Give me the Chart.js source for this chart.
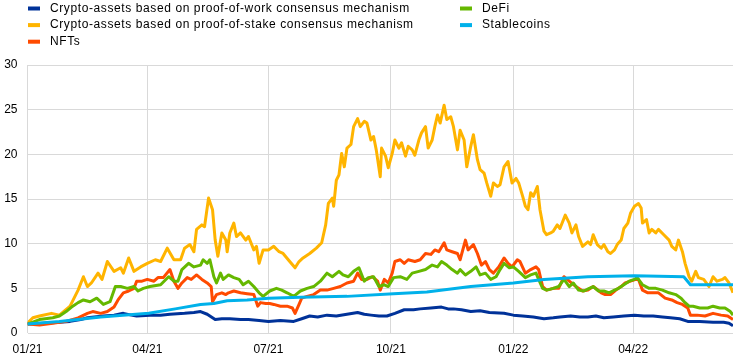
<!DOCTYPE html>
<html>
<head>
<meta charset="utf-8">
<script src="https://cdn.jsdelivr.net/npm/chart.js@4.4.1/dist/chart.umd.min.js"></script>
<style>
  html, body { margin: 0; padding: 0; background: #fff; }
  #wrap { width: 744px; height: 361px; }
</style>
</head>
<body>
<div id="wrap"><canvas id="c" width="744" height="361"></canvas></div>
<script>
// x = days since 1 Jan 2021, y = index (1 Jan 2021 = 1)
const tickDays = [0, 90, 181, 273, 365, 455];
const tickLabels = ["01/21", "04/21", "07/21", "10/21", "01/22", "04/22"];
const lastDay = 530;

const powData = [[0,1.0],[12,1.1],[24,1.2],[32,1.3],[40,1.5],[45,1.7],[57,1.9],[65,2.0],[72,2.2],[78,2.0],[82,1.9],[92,2.0],[100,2.0],[107,2.1],[118,2.2],[125,2.3],[130,2.4],[135,2.1],[141,1.5],[146,1.6],[152,1.6],[160,1.5],[166,1.5],[174,1.4],[181,1.3],[190,1.4],[200,1.3],[206,1.6],[212,1.9],[218,1.8],[225,2.0],[232,1.9],[240,2.1],[248,2.3],[253,2.1],[258,2.0],[264,1.9],[270,1.9],[276,2.2],[283,2.6],[290,2.6],[295,2.7],[303,2.8],[311,2.9],[316,2.7],[320,2.7],[326,2.6],[333,2.4],[340,2.5],[347,2.3],[358,2.2],[365,2.0],[372,1.9],[380,1.8],[388,1.6],[395,1.7],[400,1.8],[408,1.9],[415,1.8],[421,1.8],[427,1.9],[433,1.7],[440,1.8],[448,1.9],[456,2.0],[463,1.9],[470,1.9],[477,1.8],[483,1.7],[490,1.6],[496,1.3],[505,1.3],[515,1.2],[523,1.2],[527,1.1],[530,0.8]];

const posData = [[0,1.1],[4,1.7],[9,1.9],[18,2.2],[24,2.0],[32,3.0],[38,4.8],[42,6.3],[45,5.2],[48,5.6],[53,6.7],[56,6.0],[60,8.0],[65,6.9],[70,7.3],[72,6.7],[76,8.4],[80,6.9],[85,7.4],[90,7.8],[96,8.2],[100,8.0],[105,9.5],[110,8.2],[115,8.2],[118,9.5],[122,9.9],[125,9.1],[127,11.6],[131,12.1],[133,11.9],[136,15.1],[139,13.8],[141,10.4],[143,8.6],[146,11.2],[149,10.4],[150,9.1],[152,11.2],[155,12.3],[157,10.8],[160,11.2],[164,10.4],[166,10.8],[170,9.3],[172,9.7],[174,7.8],[177,9.3],[181,9.3],[185,9.7],[189,9.1],[192,8.9],[197,8.0],[201,7.3],[204,8.0],[207,8.4],[212,8.9],[217,9.5],[221,10.1],[224,12.1],[226,14.5],[229,15.1],[230,14.2],[232,17.1],[234,17.7],[236,20.1],[238,18.6],[240,20.7],[243,21.1],[245,23.1],[248,24.0],[250,23.1],[253,23.7],[255,23.5],[258,21.6],[260,22.0],[262,20.5],[265,17.5],[266,20.7],[269,19.8],[271,18.5],[274,20.1],[276,21.6],[279,20.7],[281,21.3],[284,19.8],[286,20.9],[289,20.5],[291,19.9],[294,21.6],[296,22.4],[299,23.1],[301,20.7],[304,21.6],[306,23.1],[308,24.4],[310,23.5],[313,25.5],[315,23.9],[318,24.2],[320,23.1],[323,20.5],[325,22.7],[328,21.6],[330,18.6],[333,20.9],[335,22.2],[338,19.4],[340,18.3],[343,17.9],[345,16.8],[348,15.3],[350,16.8],[353,16.4],[355,16.6],[358,18.6],[361,19.2],[364,16.8],[367,17.3],[369,16.8],[372,15.3],[374,14.2],[376,13.8],[378,15.7],[380,15.3],[383,16.4],[385,13.8],[388,11.4],[390,11.0],[393,11.2],[395,11.4],[398,12.1],[400,11.7],[404,13.2],[407,12.3],[409,11.2],[412,12.1],[414,10.8],[417,9.7],[421,10.2],[423,9.9],[425,11.0],[428,9.9],[431,9.5],[433,9.9],[436,9.1],[438,8.9],[441,9.3],[443,9.9],[446,10.4],[448,11.7],[451,12.3],[453,13.4],[456,14.2],[459,14.5],[461,14.0],[462,12.3],[465,12.7],[467,11.2],[469,11.6],[472,11.2],[474,11.6],[478,11.0],[482,10.4],[484,9.7],[487,9.3],[489,10.4],[492,9.1],[494,7.8],[497,6.3],[499,5.8],[502,6.9],[504,6.2],[508,6.0],[512,5.2],[515,6.3],[518,5.8],[522,6.0],[524,6.2],[527,5.6],[530,4.5]];

const nftData = [[0,1.0],[9,0.9],[19,1.1],[29,1.3],[38,1.7],[45,2.2],[49,2.4],[55,2.2],[60,2.4],[65,2.9],[68,3.7],[72,4.5],[76,4.7],[80,5.0],[82,5.8],[86,5.8],[90,6.0],[95,5.8],[98,6.2],[102,6.2],[107,7.1],[110,5.8],[113,5.0],[116,5.6],[120,6.2],[123,6.0],[127,6.5],[131,6.0],[135,5.6],[138,5.2],[139,3.5],[142,4.3],[146,4.5],[149,4.3],[151,4.5],[155,4.7],[160,4.5],[165,4.4],[170,4.3],[173,3.0],[175,3.4],[179,3.3],[182,3.3],[185,3.2],[190,3.0],[195,3.0],[199,2.8],[201,2.2],[204,3.2],[206,3.9],[210,4.1],[215,4.3],[220,4.8],[225,4.8],[230,5.0],[235,5.2],[240,5.6],[245,5.8],[248,6.7],[251,6.0],[255,6.0],[259,6.3],[263,5.8],[265,4.8],[268,6.0],[271,5.6],[274,6.7],[276,8.0],[280,8.2],[283,7.8],[286,8.2],[291,8.0],[295,8.2],[299,8.9],[303,8.8],[306,9.3],[309,9.1],[313,10.1],[315,9.3],[319,9.1],[323,8.9],[325,8.2],[329,10.4],[331,9.3],[335,9.9],[338,8.9],[341,7.6],[344,8.0],[347,7.1],[350,6.7],[354,7.4],[358,8.4],[361,7.8],[364,7.4],[368,8.2],[370,8.0],[374,6.7],[378,7.1],[382,7.4],[384,7.1],[387,5.2],[390,4.8],[395,5.0],[399,5.0],[403,6.3],[407,5.8],[412,5.2],[417,4.7],[421,4.8],[425,5.2],[431,4.5],[434,4.3],[438,4.3],[442,4.8],[446,5.2],[449,5.6],[453,5.8],[457,6.0],[459,6.0],[462,4.8],[466,4.5],[469,4.5],[474,4.5],[479,3.9],[484,3.7],[488,3.4],[492,3.2],[496,2.8],[498,2.0],[503,2.0],[509,1.9],[515,2.2],[521,2.0],[526,1.9],[530,1.5]];

const defiData = [[0,1.0],[9,1.5],[19,1.7],[24,1.9],[29,2.4],[34,3.0],[38,3.4],[42,3.7],[47,3.5],[52,3.9],[57,3.2],[62,3.5],[66,5.2],[70,5.2],[75,5.0],[80,5.2],[83,4.7],[87,5.0],[92,5.2],[100,5.4],[106,6.3],[110,5.8],[113,5.8],[116,7.1],[121,7.8],[125,7.4],[130,7.6],[132,8.2],[135,7.8],[137,8.2],[140,6.3],[142,5.6],[145,6.7],[147,6.0],[151,6.5],[155,6.2],[159,6.0],[162,5.4],[166,5.8],[170,5.2],[174,4.5],[177,4.1],[182,4.7],[187,5.0],[191,4.8],[195,4.5],[200,4.1],[205,4.7],[210,5.0],[215,5.2],[220,5.8],[225,6.7],[229,6.3],[234,6.9],[237,6.5],[241,6.3],[245,6.9],[249,7.3],[253,5.8],[256,6.2],[260,6.3],[264,5.2],[268,5.4],[271,5.2],[275,6.2],[280,6.3],[285,6.0],[289,6.7],[294,6.9],[299,7.1],[304,7.6],[308,7.4],[311,8.0],[315,7.6],[319,7.1],[323,6.7],[325,7.1],[329,6.5],[333,6.9],[337,7.4],[340,6.5],[344,6.7],[348,6.0],[352,6.3],[355,7.1],[358,7.8],[362,7.3],[365,7.4],[369,6.9],[374,6.2],[378,6.5],[382,6.7],[384,6.0],[387,5.0],[390,4.8],[395,5.0],[399,5.2],[403,6.0],[407,5.2],[410,5.6],[414,4.8],[418,4.7],[422,5.0],[425,5.2],[429,4.7],[433,4.7],[437,4.5],[441,4.8],[444,5.0],[448,5.4],[452,5.8],[456,6.0],[458,6.2],[462,5.4],[467,5.0],[472,5.0],[477,4.8],[482,4.5],[487,4.3],[491,3.9],[494,3.4],[497,3.0],[500,3.0],[505,2.8],[511,2.8],[515,3.0],[520,2.8],[524,2.8],[528,2.4],[530,2.0]];

const stableData = [[0,1.0],[24,1.3],[55,1.8],[91,2.2],[111,2.7],[130,3.2],[140,3.3],[150,3.6],[165,3.7],[181,3.9],[205,4.0],[240,4.1],[275,4.4],[300,4.6],[333,5.2],[365,5.6],[388,6.0],[421,6.3],[456,6.4],[493,6.3],[498,5.4],[530,5.4]];

const seriesNames = [
  "Crypto-assets based on proof-of-work consensus mechanism",
  "Crypto-assets based on proof-of-stake consensus mechanism",
  "NFTs",
  "DeFi",
  "Stablecoins"
];
const seriesColors = ["#003299", "#ffb400", "#ff4b00", "#65b800", "#00b1ea"];
const seriesData = [powData, posData, nftData, defiData, stableData];
const drawOrder = [3, 4, 2, 1, 0]; // lower = on top

const FONT = "Arial, 'Liberation Sans', sans-serif";

// legend in two columns, drawn by hand
const twoColLegend = {
  id: "twoColLegend",
  afterDraw(chart) {
    const ctx = chart.ctx;
    const cols = [[0, 1, 2], [3, 4]];
    const colX = [28, 460];
    ctx.save();
    ctx.font = "12px " + FONT;
    ctx.textBaseline = "middle";
    ctx.letterSpacing = "0.6px";
    cols.forEach((items, c) => {
      items.forEach((k, r) => {
        const y = 8.5 + r * 16.6;
        ctx.fillStyle = seriesColors[k];
        ctx.fillRect(colX[c], y - 2, 12, 4);
        ctx.fillStyle = "#000";
        ctx.fillText(seriesNames[k], colX[c] + 22, y);
      });
    });
    ctx.restore();
  }
};

new Chart(document.getElementById("c"), {
  type: "line",
  data: {
    datasets: seriesData.map((d, i) => ({
      label: seriesNames[i],
      data: d.map(p => ({ x: p[0], y: p[1] })),
      borderColor: seriesColors[i],
      backgroundColor: seriesColors[i],
      borderWidth: 3,
      pointRadius: 0,
      tension: 0,
      borderJoinStyle: "round",
      order: drawOrder[i]
    }))
  },
  options: {
    responsive: false,
    animation: false,
    devicePixelRatio: 1,
    layout: { padding: { top: 65, right: 11, left: 0, bottom: 0 } },
    plugins: { legend: { display: false }, tooltip: { enabled: false } },
    scales: {
      x: {
        type: "linear",
        min: 0,
        max: lastDay,
        afterBuildTicks(s) { s.ticks = tickDays.map(v => ({ value: v })); },
        afterFit(s) { s.height = 28; },
        border: { display: false },
        grid: { color: "#d9d9d9", lineWidth: 1, drawTicks: false },
        ticks: {
          autoSkip: false,
          maxRotation: 0,
          padding: 9,
          color: "#000",
          font: { size: 12, family: FONT },
          callback: (v, i) => tickLabels[i]
        }
      },
      y: {
        min: 0,
        max: 30,
        afterFit(s) { s.width = 27.5; },
        border: { display: false },
        grid: { color: "#d9d9d9", lineWidth: 1, drawTicks: false },
        ticks: {
          stepSize: 5,
          padding: 10,
          color: "#000",
          font: { size: 12, family: FONT }
        }
      }
    }
  },
  plugins: [twoColLegend]
});
</script>
</body>
</html>
